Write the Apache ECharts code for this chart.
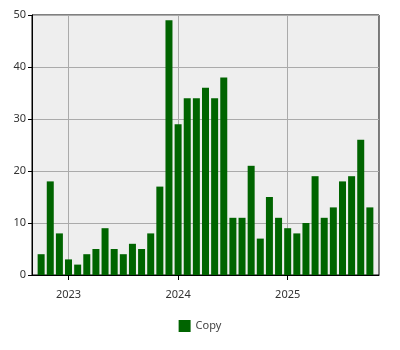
<!DOCTYPE html>
<html>
<head>
<meta charset="utf-8">
<script src="https://cdn.jsdelivr.net/npm/echarts@6/dist/echarts.min.js"></script>
<style>html,body{margin:0;padding:0;background:#fff;}#c{width:400px;height:350px;}</style>
</head>
<body>
<div id="c"></div>
<script>
// Monthly categories from Sep 2022 to Nov 2025 (first and last are empty padding months)
const months = [];
for (let y = 2022, m = 9; !(y === 2025 && m === 12); ) {
  months.push(y + '-' + String(m).padStart(2, '0'));
  m++; if (m > 12) { m = 1; y++; }
}
// Copy counts, Oct 2022 .. Oct 2025
const copyValues = [4, 18, 8, 3, 2, 4, 5, 9, 5, 4, 6, 5, 8, 17, 49, 29, 34, 34, 36, 34, 38, 11, 11, 21, 7, 15, 11, 9, 8, 10, 19, 11, 13, 18, 19, 26, 13];
const seriesName = 'Copy';
const yTicks = [0, 10, 20, 30, 40, 50];

const data = [null].concat(copyValues).concat([null]);
const isYearStart = (i) => months[i] && months[i].endsWith('-01');

const chart = echarts.init(document.getElementById('c'), null, {renderer: 'canvas'});
chart.setOption({
  animation: false,
  textStyle: {fontFamily: 'Noto Sans'},
  grid: {left: 32, right: 21, top: 15, bottom: 75, show: true, backgroundColor: '#eeeeee', borderColor: '#000', borderWidth: 1},
  legend: {
    data: [seriesName], top: 315, left: 'center', icon: 'rect', itemWidth: 12, itemHeight: 12, itemGap: 6,
    textStyle: {fontFamily: 'Noto Sans', fontSize: 11, color: '#444'}
  },
  xAxis: {
    type: 'category', data: months, boundaryGap: false,
    axisLine: {lineStyle: {color: '#000', width: 1}},
    axisTick: {show: true, length: 5, interval: (i) => isYearStart(i), lineStyle: {color: '#000'}},
    axisLabel: {interval: (i) => isYearStart(i), formatter: (v) => v.slice(0, 4), color: '#333', fontSize: 11, margin: 14},
    splitLine: {show: true, interval: (i) => isYearStart(i), lineStyle: {color: '#aaaaaa', width: 1}}
  },
  yAxis: {
    type: 'value', min: yTicks[0], max: yTicks[yTicks.length - 1], interval: yTicks[1] - yTicks[0],
    axisLine: {show: true, lineStyle: {color: '#000', width: 1}},
    axisTick: {show: true, length: 4, lineStyle: {color: '#000'}},
    axisLabel: {color: '#333', fontSize: 11, margin: 6},
    splitLine: {show: true, lineStyle: {color: '#aaaaaa', width: 1}}
  },
  series: [{
    name: seriesName, type: 'bar', data: data, barWidth: 7,
    itemStyle: {color: '#006400'}
  }]
});
</script>
</body>
</html>
